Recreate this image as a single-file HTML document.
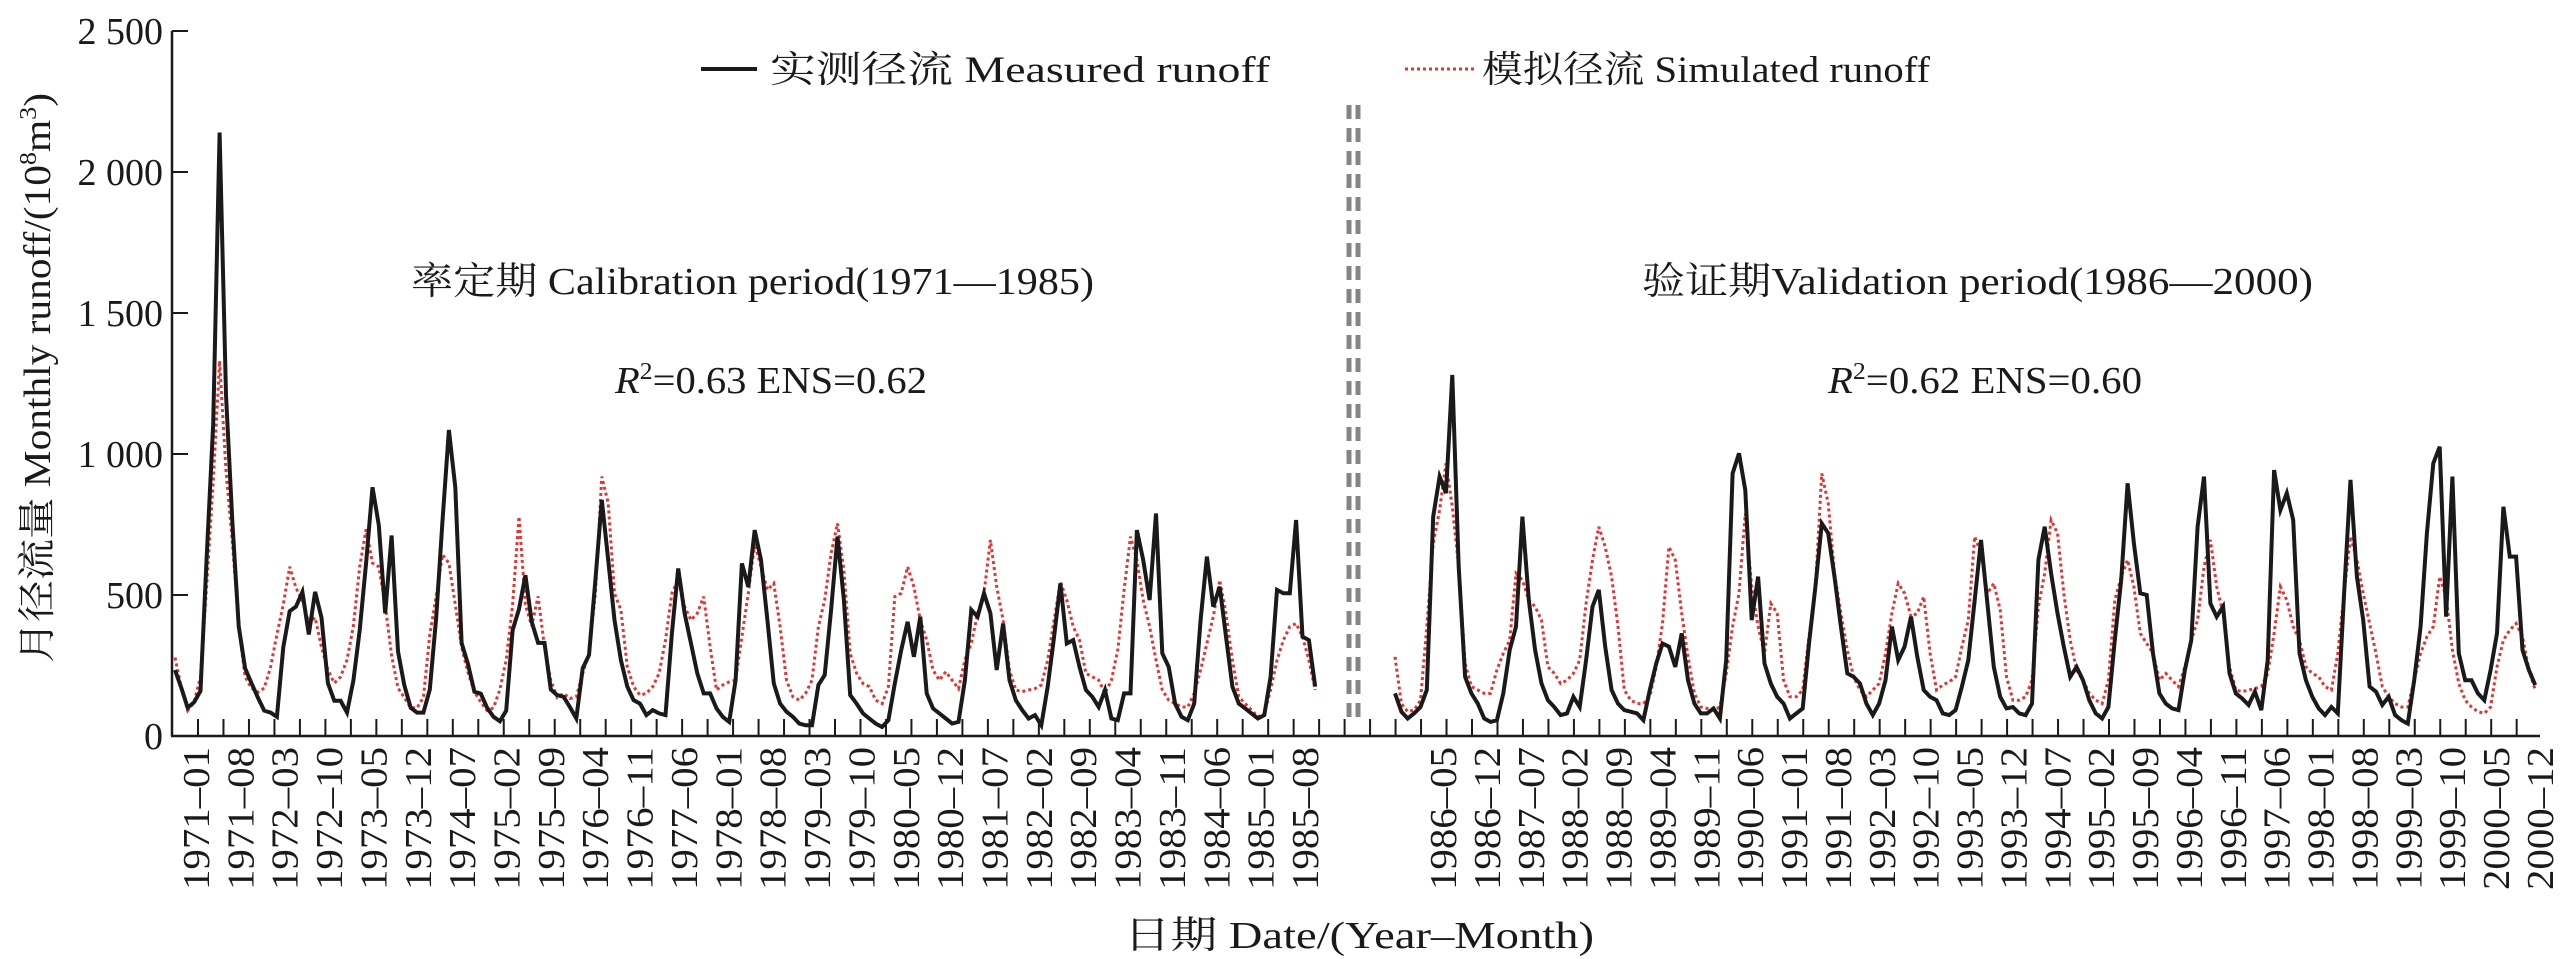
<!DOCTYPE html>
<html><head><meta charset="utf-8"><style>
html,body{margin:0;padding:0;background:#fff;}
svg{display:block;}
text{font-family:"Liberation Serif","Noto Serif CJK SC","Noto Sans CJK SC",serif;fill:#1a1a1a;}
</style></head><body>
<svg id="chart" width="2568" height="959" viewBox="0 0 2568 959" xmlns="http://www.w3.org/2000/svg">
<g id="axes"></g>
<g id="series"></g>
<g>
  <line x1="701" y1="69" x2="757" y2="69" stroke="#1a1a1a" stroke-width="4"/>
  <text x="770" y="82" font-size="37" textLength="500" lengthAdjust="spacingAndGlyphs">实测径流 Measured runoff</text>
  <line x1="1405" y1="69" x2="1474" y2="69" stroke="#e8322f" stroke-width="3" stroke-dasharray="3 3"/>
  <text x="1482" y="82" font-size="37" textLength="448" lengthAdjust="spacingAndGlyphs">模拟径流 Simulated runoff</text>
</g>
<text x="411" y="294" font-size="38" textLength="683" lengthAdjust="spacingAndGlyphs">率定期 Calibration period(1971—1985)</text>
<text x="615" y="393" font-size="38" textLength="312" lengthAdjust="spacingAndGlyphs"><tspan font-style="italic">R</tspan><tspan dy="-14" font-size="24">2</tspan><tspan dy="14">=0.63 ENS=0.62</tspan></text>
<text x="1642" y="294" font-size="38" textLength="671" lengthAdjust="spacingAndGlyphs">验证期Validation period(1986—2000)</text>
<text x="1828" y="393" font-size="38" textLength="314" lengthAdjust="spacingAndGlyphs"><tspan font-style="italic">R</tspan><tspan dy="-14" font-size="24">2</tspan><tspan dy="14">=0.62 ENS=0.60</tspan></text>
<line x1="1349" y1="105" x2="1349" y2="722" stroke="#858585" stroke-width="5" stroke-dasharray="14 9"/>
<line x1="1358" y1="105" x2="1358" y2="722" stroke="#858585" stroke-width="5" stroke-dasharray="14 9"/>
<text transform="translate(50,378) rotate(-90)" text-anchor="middle" font-size="38" textLength="570" lengthAdjust="spacingAndGlyphs">月径流量 Monthly runoff/(10<tspan dy="-14" font-size="24">8</tspan><tspan dy="14">m</tspan><tspan dy="-14" font-size="24">3</tspan><tspan dy="14">)</tspan></text>
<text x="1359" y="948" text-anchor="middle" font-size="38" textLength="470" lengthAdjust="spacingAndGlyphs">日期 Date/(Year–Month)</text>
</svg>
<script>
const yTicks=[0,500,1000,1500,2000,2500];
const yTickLabels=["0","500","1 000","1 500","2 000","2 500"];
const calLabels=["1971–01","1971–08","1972–03","1972–10","1973–05","1973–12","1974–07","1975–02","1975–09","1976–04","1976–11","1977–06","1978–01","1978–08","1979–03","1979–10","1980–05","1980–12","1981–07","1982–02","1982–09","1983–04","1983–11","1984–06","1985–01","1985–08"];
const valLabels=["1986–05","1986–12","1987–07","1988–02","1988–09","1989–04","1989–11","1990–06","1991–01","1991–08","1992–03","1992–10","1993–05","1993–12","1994–07","1995–02","1995–09","1996–04","1996–11","1997–06","1998–01","1998–08","1999–03","1999–10","2000–05","2000–12"];
const calMeasured=[234,170,100,120,160,643,1106,2140,1210,763,390,240,
188,137,90,83,68,315,443,459,511,360,511,420,
188,125,125,83,197,375,613,882,748,435,711,300,
180,100,83,83,165,420,763,1085,882,330,255,157,
150,100,68,52,90,375,450,570,405,330,330,165,
145,139,103,62,240,287,553,837,624,411,269,175,
127,115,74,92,80,74,364,594,435,328,222,151,
151,98,68,50,198,612,529,730,624,411,186,115,
86,68,44,38,38,181,216,447,707,482,145,115,
80,62,44,32,56,186,304,405,281,423,151,98,
80,62,44,50,198,447,423,506,435,234,399,198,
127,92,62,74,38,175,352,541,328,340,245,163,
139,103,163,62,56,151,151,730,624,482,789,293,
245,115,68,56,115,411,636,459,529,352,175,115,
98,80,62,74,210,518,506,506,766,352,340,175];
const calSimulated=[278,170,90,120,210,540,900,1330,940,690,390,210,
170,155,170,245,360,466,600,525,480,400,420,315,
234,188,210,270,390,600,733,613,600,466,285,170,
137,100,100,137,360,495,643,613,466,315,225,157,
120,90,100,165,270,466,778,466,390,495,315,197,
137,151,133,139,222,293,506,920,826,506,447,245,
175,145,151,175,222,340,506,553,459,411,435,494,
317,163,181,192,198,352,506,683,600,518,541,388,
198,139,127,151,198,388,482,648,754,588,293,222,
186,175,127,115,175,494,506,600,529,411,340,234,
198,228,198,168,269,328,435,506,695,529,411,234,
163,157,163,168,181,269,411,547,482,388,340,222,
210,198,151,198,305,518,707,624,482,388,269,163,
127,115,103,103,151,234,328,423,553,435,269,139,
115,92,68,80,163,269,340,388,399,352,269,163];
const valMeasured=[151,86,62,80,103,163,778,920,861,1280,600,210,
151,115,62,50,56,151,305,388,778,482,305,186,
127,103,74,80,139,103,269,459,518,317,163,115,
92,86,80,56,163,257,328,317,245,364,198,115,
80,80,98,62,269,931,1002,872,411,565,257,186,
139,115,62,80,98,328,529,754,719,565,388,222,
210,186,115,74,115,198,388,269,317,423,281,163,
139,127,80,74,92,175,269,482,695,470,245,139,
98,103,80,74,115,624,742,577,435,317,210,245,
198,127,80,62,103,340,553,896,683,506,500,293,
151,115,98,92,234,340,742,920,470,423,459,222,
151,133,110,157,92,269,943,801,861,766,293,198,
139,98,74,103,80,506,908,565,411,175,157,110,
139,74,56,44,198,388,719,967,1026,423,920,293,
198,198,151,127,234,364,813,636,636,305,234,181];
const valSimulated=[281,115,86,92,127,388,683,801,967,813,600,257,
175,163,151,151,234,293,340,577,553,482,459,411,
245,222,186,198,222,269,470,624,742,671,565,388,
163,127,115,115,139,245,399,671,624,435,281,151,
103,98,92,103,222,388,506,789,529,388,293,470,
435,198,139,139,163,352,529,931,825,577,435,305,
210,163,139,163,186,293,435,541,506,423,435,494,
293,163,181,192,210,317,411,707,648,506,541,447,
210,127,127,139,198,459,577,766,719,506,340,234,
198,151,127,115,198,482,565,624,529,364,328,293,
198,222,198,175,245,340,411,600,695,529,435,245,
163,157,163,168,175,222,364,529,482,388,340,245,
222,210,175,163,293,506,707,624,506,399,293,175,
139,115,103,103,198,293,352,388,565,494,305,186,
127,103,86,80,103,245,340,376,399,352,234,163];

const NS="http://www.w3.org/2000/svg";
const Y0=736, YTOP=31, YMAX=2500, STEP=6.37;
function yScale(v){return Y0-(v/YMAX)*(Y0-YTOP);}
function xCal(i){return 175+i*STEP;}
function xVal(i){return 1395+i*STEP;}
function mk(tag,attrs,parent){const e=document.createElementNS(NS,tag);for(const k in attrs)e.setAttribute(k,attrs[k]);parent.appendChild(e);return e;}
const axes=document.getElementById('axes');
const series=document.getElementById('series');

let l=mk('line',{x1:172,y1:YTOP,x2:172,y2:Y0,stroke:'#1a1a1a','stroke-width':2.5},axes);


l=mk('line',{x1:171,y1:Y0,x2:2540,y2:Y0,stroke:'#1a1a1a','stroke-width':2.5},axes);


yTicks.forEach((v,k)=>{
  const y=yScale(v);
  const t=mk('line',{x1:172,y1:y,x2:188,y2:y,stroke:'#1a1a1a','stroke-width':2},axes);
  
  
  const tx=mk('text',{x:163,y:y+13,'text-anchor':'end','font-size':38},axes);
  tx.textContent=yTickLabels[k];
  
  
});
for(let k=0;k<=92;k++){
  const x=198+k*4*STEP; if(x>2541)break;
  const t=mk('line',{x1:x,y1:Y0,x2:x,y2:Y0-17,stroke:'#1a1a1a','stroke-width':2},axes);
  
  
}
function xLabel(txt,x){
  const t=mk('text',{transform:`translate(${x+13},890) rotate(-90)`,'font-size':38,textLength:143,lengthAdjust:'spacingAndGlyphs'},axes);
  t.textContent=txt;
  
  
}
calLabels.forEach((s,k)=>xLabel(s,196+k*(1305-196)/(calLabels.length-1)));
valLabels.forEach((s,k)=>xLabel(s,1443+k*(2540-1443)/(valLabels.length-1)));

function path(vals,xf,stroke,w,dash,name){
  const d=vals.map((v,i)=>(i?'L':'M')+xf(i).toFixed(1)+' '+yScale(v).toFixed(1)).join(' ');
  const p=mk('path',{d:d,fill:'none',stroke:stroke,'stroke-width':w,'stroke-linejoin':'miter'},series);
  if(dash)p.setAttribute('stroke-dasharray',dash);
  
  
}
path(calSimulated,xCal,'#e8322f',3,'3 3','simulated-line-calibration');
path(valSimulated,xVal,'#e8322f',3,'3 3','simulated-line-validation');
path(calMeasured,xCal,'#1a1a1a',4,null,'measured-line-calibration');
path(valMeasured,xVal,'#1a1a1a',4,null,'measured-line-validation');
</script>
</body></html>
